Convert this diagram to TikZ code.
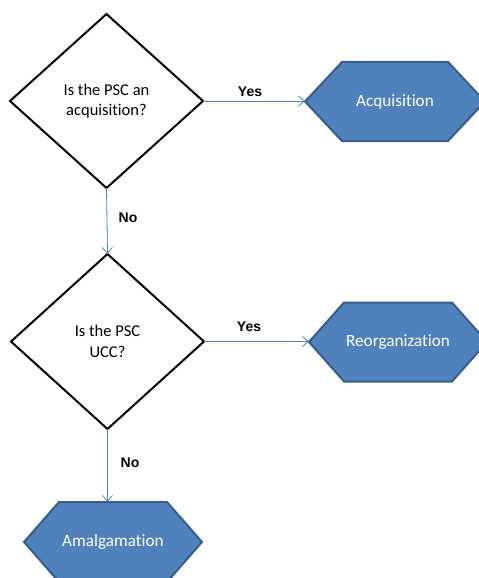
\documentclass[tikz,border=0pt]{standalone}
\usepackage{fontspec}
\setmainfont{Carlito}[Ligatures=NoCommon]
\newfontfamily\labfont{Liberation Sans}
\usetikzlibrary{shapes.geometric,arrows.meta,backgrounds}
\definecolor{hexfill}{HTML}{4F81BD}
\definecolor{hexline}{HTML}{385D8A}
\definecolor{conncol}{HTML}{4F81BD}
\tikzset{
  decision/.style={diamond, draw=black, line width=2bp, fill=white, inner sep=0pt,
    outer sep=0pt, align=center, font=\fontsize{16.5bp}{20.5bp}\selectfont},
  hexnode/.style={rectangle, inner sep=0pt, outer sep=0pt, text=white,
    font=\fontsize{17.2bp}{20bp}\selectfont},
  hexdraw/.style={fill=hexfill, draw=hexline, line width=2bp, line join=miter},
  conn/.style={draw=conncol, line width=0.8bp, -{Straight Barb[length=6bp,width=10bp,line width=0.8bp]}},
  lab/.style={font=\labfont\bfseries\fontsize{14bp}{16bp}\selectfont, inner sep=0pt}
}
\newcommand{\hexshape}[2]{%
  \draw[hexdraw] (#1.west) -- ([xshift=#2]#1.north west) -- ([xshift=-#2]#1.north east)
    -- (#1.east) -- ([xshift=-#2]#1.south east) -- ([xshift=#2]#1.south west) -- cycle;}
\begin{document}
\begin{tikzpicture}[x=1bp,y=-1bp]
\useasboundingbox (0,0) rectangle (479,578);
\clip (0,0) rectangle (479,578);
% decisions
\node[decision, minimum width=193bp, minimum height=174bp] (d1) at (106.5,101) {Is the PSC an\\acquisition?};
\node[decision, minimum width=193bp, minimum height=175bp] (d2) at (107.5,341.5) {Is the PSC\\UCC?};
% outcome nodes
\node[hexnode, minimum width=180bp, minimum height=79bp] (acq) at (395,101.5) {Acquisition};
\node[hexnode, minimum width=178bp, minimum height=79bp] (reo) at (398,342) {Reorganization};
\node[hexnode, minimum width=178bp, minimum height=80bp] (amal) at (113,542) {Amalgamation};
\begin{scope}[on background layer]
  \hexshape{acq}{37bp}
  \hexshape{reo}{35bp}
  \hexshape{amal}{35bp}
\end{scope}
% connectors
\draw[conn] (d1.east) -- (d1.east -| acq.west);
\draw[conn] (d1.south) -- (d2.north);
\draw[conn] (d2.east) -- (d2.east -| reo.west);
\draw[conn] (d2.south) -- (d2.south |- amal.north);
% labels
\node[lab] (y1) at (250,92) {Yes};
\node[lab] (n1) at (128,218) {No};
\node[lab] (y2) at (249,327) {Yes};
\node[lab] (n2) at (130,463) {No};
\end{tikzpicture}
\end{document}
